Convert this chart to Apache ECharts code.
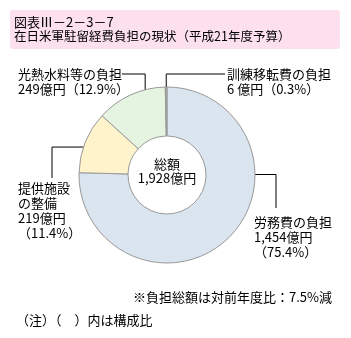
<!DOCTYPE html>
<html>
<head>
<meta charset="utf-8">
<script src="https://cdn.jsdelivr.net/npm/echarts@6/dist/echarts.min.js"></script>
<style>
html,body{margin:0;padding:0;background:#fff;}
#c{width:351px;height:338px;}
</style>
</head>
<body>
<div id="c"></div>
<script>
var titleLines = ['図表Ⅲ－2－3－7', '在日米軍駐留経費負担の現状（平成21年度予算）'];
var categories = ['労務費の負担', '提供施設の整備', '光熱水料等の負担', '訓練移転費の負担'];
var amounts = [1454, 219, 249, 6];
var percents = ['75.4', '11.4', '12.9', '0.3'];
var amountTexts = ['1,454億円', '219億円', '249億円', '6 億円'];
var totalText = ['総額', '1,928億円'];
var noteTexts = ['※負担総額は対前年度比：7.5%減', '（注）（　）内は構成比'];
var colors = ['#dae5f0', '#fff3cc', '#e5f4e0', '#aaaaaa'];

var FONT = '"Noto Sans CJK JP", sans-serif';
var CX = 167, CY = 175, R0 = 39, R1 = 88;

// label placement (layout only)
var labelPos = [
  {x: 254, y: 215},
  {x: 18, y: 181},
  {x: 18, y: 67},
  {x: 227, y: 67}
];
// leader: fraction within slice & radius, and elbow type
var leader = [
  {t: 0.33, r: 69, type: 'h', ex: 276, ey: 208},
  {t: 0.47, r: 79, type: 'h', ex: 52, ey: 178},
  {t: 0.66, r: 75, type: 'v', ex: 122, ey: 74},
  {t: 0.5, r: 77, type: 'v', ex: 225, ey: 74}
];

var total = amounts.reduce(function (a, b) { return a + b; }, 0);
var cum = [];
(function () { var s = 0; for (var i = 0; i < amounts.length; i++) { cum.push(s); s += amounts[i]; } })();

function anchorPoint(i) {
  var f = (cum[i] + amounts[i] * leader[i].t) / total;
  var th = f * 2 * Math.PI;
  return [CX + leader[i].r * Math.sin(th), CY - leader[i].r * Math.cos(th)];
}

function labelText(i) {
  var name = categories[i];
  var amt = amountTexts[i];
  var pct = '（' + percents[i] + '%）';
  if (i === 0) return name + '\n' + amt + '\n' + pct;
  if (i === 1) return '提供施設\nの整備\n' + amt + '\n' + pct;
  return name + '\n' + amt + pct;
}

var chart = echarts.init(document.getElementById('c'), null, {renderer: 'canvas'});
chart.setOption({
  animation: false,
  backgroundColor: '#fff',
  graphic: [
    {type: 'rect', shape: {x: 10, y: 10, width: 330, height: 39, r: 3}, style: {fill: '#fde0ee'}, z: 0},
    {type: 'text', x: 14, y: 16, style: {text: titleLines[0], font: '13px ' + FONT, fill: '#000'}, z: 1},
    {type: 'text', x: 14, y: 30, style: {text: titleLines[1], font: '12.5px ' + FONT, fill: '#000'}, z: 1},
    {type: 'text', x: CX, y: 164, style: {text: totalText[0], font: '13px ' + FONT, fill: '#000', align: 'center', verticalAlign: 'middle'}, z: 5},
    {type: 'text', x: CX, y: 178, style: {text: totalText[1], font: '13px ' + FONT, fill: '#000', align: 'center', verticalAlign: 'middle'}, z: 5},
    {type: 'text', x: 332, y: 297, style: {text: noteTexts[0], font: '13px ' + FONT, fill: '#000', align: 'right', verticalAlign: 'middle'}, z: 5},
    {type: 'text', x: 16, y: 320, style: {text: noteTexts[1], font: '13px ' + FONT, fill: '#000', align: 'left', verticalAlign: 'middle'}, z: 5}
  ],
  series: [{
    type: 'pie',
    center: [CX, CY],
    radius: [R0, R1],
    startAngle: 90,
    clockwise: true,
    avoidLabelOverlap: false,
    itemStyle: {borderColor: '#999', borderWidth: 1},
    emphasis: {disabled: true},
    data: categories.map(function (c, i) {
      return {name: c, value: amounts[i], itemStyle: {color: colors[i]}};
    }),
    label: {
      show: true,
      position: 'outside',
      formatter: function (p) { return labelText(p.dataIndex); },
      fontFamily: FONT,
      fontSize: 13,
      lineHeight: 15,
      color: '#000'
    },
    labelLine: {show: true, lineStyle: {color: '#000', width: 1}},
    labelLayout: function (p) {
      var i = p.dataIndex;
      var a = anchorPoint(i);
      var L = leader[i];
      var pts;
      if (L.type === 'h') {
        pts = [a, [L.ex, a[1]], [L.ex, L.ey]];
      } else {
        pts = [a, [a[0], L.ey], [L.ex, L.ey]];
      }
      return {
        x: labelPos[i].x,
        y: labelPos[i].y,
        align: 'left',
        verticalAlign: 'top',
        labelLinePoints: pts
      };
    }
  }]
});
</script>
</body>
</html>
